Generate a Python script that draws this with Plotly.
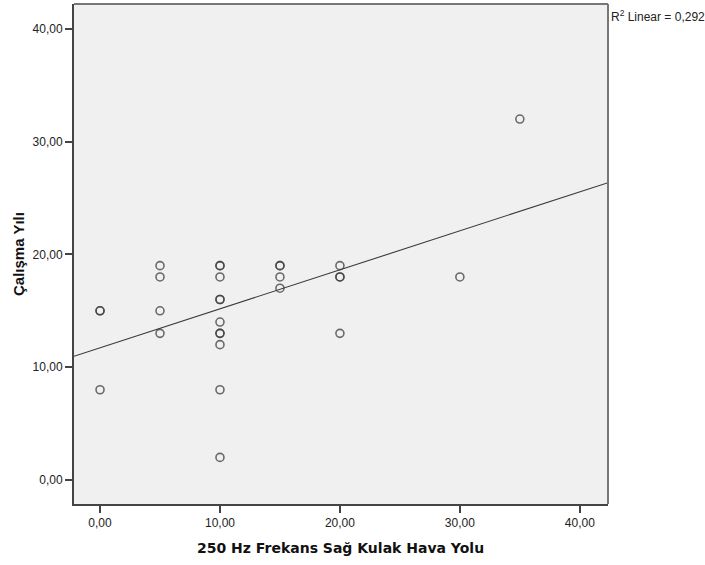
import numpy as np
import plotly.graph_objects as go

# Data (duplicates are overlapping points)
x_vals = [0, 0, 0,
          5, 5, 5, 5,
          10, 10, 10, 10, 10, 10, 10, 10, 10, 10, 10,
          15, 15, 15, 15,
          20, 20, 20, 20,
          30, 35]
y_vals = [15, 15, 8,
          19, 18, 15, 13,
          19, 19, 18, 16, 16, 14, 13, 13, 12, 8, 2,
          19, 19, 18, 17,
          19, 18, 18, 13,
          18, 32]
tick_vals = [0, 10, 20, 30, 40]
tick_text = ["0,00", "10,00", "20,00", "30,00", "40,00"]
r2_label = "R<sup>2</sup> Linear = 0,292"
x_title = "250 Hz Frekans Sağ Kulak Hava Yolu"
y_title = "Çalışma Yılı"

x_range = [-2.17, 42.35]
y_range = [-2.13, 42.2]

slope, intercept = np.polyfit(x_vals, y_vals, 1)
line_x = np.array(x_range)
line_y = intercept + slope * line_x

fig = go.Figure()
fig.add_trace(go.Scatter(
    x=line_x, y=line_y, mode="lines",
    line=dict(color="#3a3a3a", width=1.1),
    hoverinfo="skip", showlegend=False))
fig.add_trace(go.Scatter(
    x=x_vals, y=y_vals, mode="markers",
    marker=dict(symbol="circle-open", size=8, color="rgba(60,60,60,0.75)",
                line=dict(width=1.6, color="rgba(60,60,60,0.75)")),
    showlegend=False))

font = dict(family="Liberation Sans, Arial, sans-serif", size=12, color="#222")

fig.update_layout(
    width=705, height=565,
    margin=dict(l=74, r=97, t=4, b=61),
    paper_bgcolor="white", plot_bgcolor="#f0f0f0",
    font=font,
    xaxis=dict(range=x_range, tickvals=tick_vals, ticktext=tick_text,
               showgrid=False, zeroline=False, showline=True,
               linecolor="#444", linewidth=2, ticks="outside", ticklen=7,
               tickwidth=2, tickcolor="#444", tickfont=font),
    yaxis=dict(range=y_range, tickvals=tick_vals, ticktext=tick_text,
               showgrid=False, zeroline=False, showline=True,
               linecolor="#444", linewidth=2, ticks="outside", ticklen=7,
               tickwidth=2, tickcolor="#444", tickfont=font),
    shapes=[
        dict(type="line", xref="paper", yref="paper", x0=0, x1=1, y0=1, y1=1,
             line=dict(color="#777", width=2)),
        dict(type="line", xref="paper", yref="paper", x0=1, x1=1, y0=0, y1=1,
             line=dict(color="#777", width=2)),
    ],
    annotations=[
        dict(text=r2_label, xref="paper", yref="paper", x=1, y=1,
             xanchor="left", yanchor="top", xshift=1, yshift=-2,
             showarrow=False, font=dict(family=font["family"], size=12, color="#222")),
        dict(text="<b>" + x_title + "</b>", xref="paper", yref="paper",
             x=(340 - 74) / 534, y=0, xanchor="center", yanchor="middle",
             yshift=-44, showarrow=False,
             font=dict(family="DejaVu Sans, sans-serif", size=14, color="#111")),
        dict(text="<b>" + y_title + "</b>", xref="paper", yref="paper",
             x=0, y=0.5, xanchor="center", yanchor="middle", xshift=-56,
             textangle=-90, showarrow=False,
             font=dict(family=font["family"], size=15, color="#111")),
    ],
)

fig.write_html("out.html")
